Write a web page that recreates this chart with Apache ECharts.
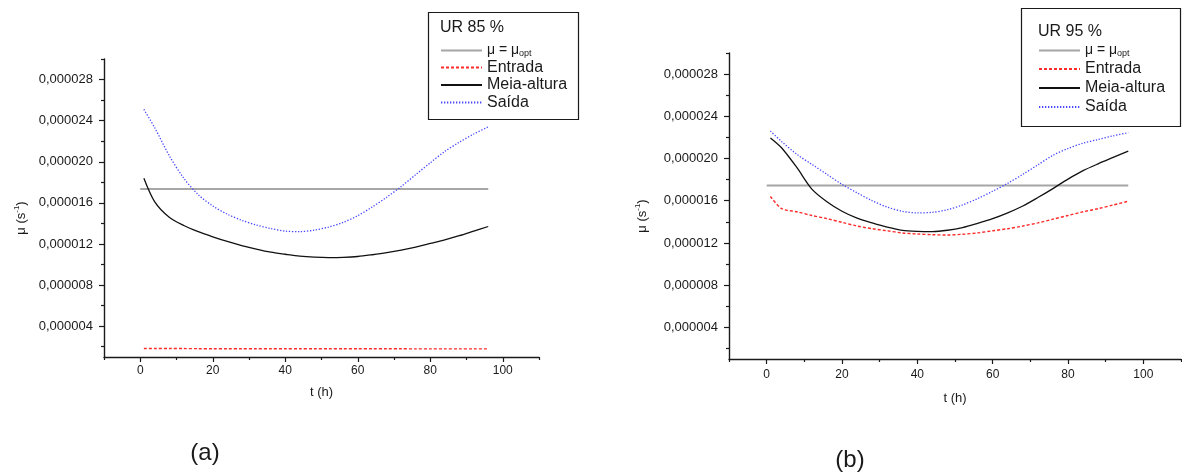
<!DOCTYPE html>
<html>
<head>
<meta charset="utf-8">
<script src="https://cdn.jsdelivr.net/npm/echarts@6/dist/echarts.min.js"></script>
<style>
  html, body { margin: 0; padding: 0; background: #fff; }
  #chart { width: 1182px; height: 472px; }
</style>
</head>
<body>
<div id="chart"></div>
<script>
// Specific growth rate μ (in units of 10^-6 s^-1) against time t (h)
// for two relative humidities: UR 85 % (a) and UR 95 % (b).
const times = [1, 4, 8, 12, 16, 20, 24, 28, 32, 36, 40, 44, 48, 52, 56, 60, 64, 68, 72, 76, 80, 84, 88, 92, 96];
const optSpan = [0, 96];

// Panel (a): UR 85 %
const muOptA = 17.35;
const entradaA = [1.82, 1.82, 1.82, 1.82, 1.81, 1.81, 1.81, 1.81, 1.81, 1.81, 1.80, 1.80, 1.80, 1.80, 1.80, 1.80, 1.80, 1.80, 1.80, 1.79, 1.79, 1.79, 1.79, 1.79, 1.79];
const meiaA    = [18.4, 16.1, 14.6, 13.8, 13.2, 12.7, 12.25, 11.85, 11.5, 11.2, 11.0, 10.82, 10.72, 10.68, 10.7, 10.78, 10.95, 11.15, 11.4, 11.7, 12.05, 12.4, 12.8, 13.25, 13.7];
const saidaA   = [25.1, 23.3, 20.6, 18.4, 16.8, 15.7, 14.9, 14.3, 13.85, 13.5, 13.25, 13.2, 13.35, 13.65, 14.1, 14.75, 15.6, 16.55, 17.6, 18.75, 19.9, 21.0, 21.9, 22.7, 23.4];

// Panel (b): UR 95 %
const muOptB = 17.45;
const entradaB = [16.4, 15.25, 14.95, 14.6, 14.3, 13.95, 13.6, 13.35, 13.15, 12.95, 12.85, 12.78, 12.75, 12.82, 12.95, 13.15, 13.35, 13.6, 13.9, 14.25, 14.6, 14.95, 15.25, 15.6, 15.95];
const meiaB    = [21.95, 21.0, 19.15, 17.1, 15.9, 15.0, 14.35, 13.9, 13.5, 13.2, 13.1, 13.08, 13.2, 13.45, 13.85, 14.3, 14.85, 15.5, 16.3, 17.15, 18.05, 18.85, 19.5, 20.1, 20.7];
const saidaB   = [22.6, 21.6, 20.4, 19.45, 18.5, 17.55, 16.75, 16.0, 15.4, 15.0, 14.85, 14.9, 15.15, 15.6, 16.2, 16.9, 17.65, 18.5, 19.4, 20.3, 20.95, 21.45, 21.8, 22.15, 22.45];

// Axis ticks
const xMajorTicks = [0, 20, 40, 60, 80, 100];
const xMinorTicks = [-10, 10, 30, 50, 70, 90, 110];
const yMajorTicks = [4, 8, 12, 16, 20, 24, 28];
const yTickLabels = ['0,000004', '0,000008', '0,000012', '0,000016', '0,000020', '0,000024', '0,000028'];
const yMinorTicks = [2, 6, 10, 14, 18, 22, 26, 30];

const names = { opt: 'μ = μopt', entrada: 'Entrada', meia: 'Meia-altura', saida: 'Saída' };

const FONT = '"Liberation Sans", Arial, Helvetica, sans-serif';
const INK = '#1a1a1a';

const pairs = (vals) => times.map((t, i) => [t, vals[i]]);

const grids = [
  { left: 104, top: 59, width: 435, height: 298 },
  { left: 729, top: 53, width: 452, height: 306 }
];

function xAxesFor(g, nameGap, labelMargin) {
  return [
    {
      type: 'value', gridIndex: g, position: 'bottom', min: -10, max: 110,
      name: 't (h)', nameLocation: 'middle', nameGap: nameGap,
      nameTextStyle: { fontFamily: FONT, fontSize: 13, color: INK },
      axisLine: { onZero: false, lineStyle: { color: INK, width: 1.4 } },
      axisTick: { show: true, inside: false, length: 5, customValues: xMajorTicks, lineStyle: { color: INK, width: 1.2 } },
      axisLabel: { customValues: xMajorTicks, margin: labelMargin, fontFamily: FONT, fontSize: 12, color: INK },
      splitLine: { show: false }
    },
    {
      type: 'value', gridIndex: g, position: 'bottom', min: -10, max: 110,
      axisLine: { show: false, onZero: false },
      axisTick: { show: true, inside: false, length: 3, customValues: xMinorTicks, lineStyle: { color: INK, width: 1.2 } },
      axisLabel: { show: false },
      splitLine: { show: false }
    }
  ];
}

function yAxesFor(g, nameGap) {
  return [
    {
      type: 'value', gridIndex: g, position: 'left', min: 1, max: 30,
      name: '{a|μ (s}{sup|-1}{a|)}', nameLocation: 'middle', nameGap: nameGap, nameRotate: 90,
      nameTextStyle: {
        fontFamily: FONT, color: INK, padding: [0, 20, 0, 0],
        rich: {
          a: { fontFamily: FONT, fontSize: 13, color: INK, lineHeight: 16 },
          sup: { fontFamily: FONT, fontSize: 8, color: INK, verticalAlign: 'top', lineHeight: 16 }
        }
      },
      axisLine: { onZero: false, lineStyle: { color: INK, width: 1.4 } },
      axisTick: { show: true, inside: false, length: 5, customValues: yMajorTicks, lineStyle: { color: INK, width: 1.2 } },
      axisLabel: {
        customValues: yMajorTicks, margin: 11, fontFamily: FONT, fontSize: 13, color: INK,
        formatter: (v) => yTickLabels[yMajorTicks.indexOf(Math.round(v))]
      },
      splitLine: { show: false }
    },
    {
      type: 'value', gridIndex: g, position: 'left', min: 1, max: 30,
      axisLine: { show: false, onZero: false },
      axisTick: { show: true, inside: false, length: 3, customValues: yMinorTicks, lineStyle: { color: INK, width: 1.2 } },
      axisLabel: { show: false },
      splitLine: { show: false }
    }
  ];
}

const styles = {
  opt:     { color: '#a6a6a6', width: 2, type: 'solid' },
  entrada: { color: '#ff2a2a', width: 1.4, type: [3, 2] },
  meia:    { color: '#111111', width: 1.3, type: 'solid' },
  saida:   { color: '#4646ff', width: 1.3, type: [1.3, 1.7] }
};

function seriesFor(xi, yi, optVal, entrada, meia, saida) {
  const base = (key, data) => ({
    type: 'line', name: names[key], xAxisIndex: xi, yAxisIndex: yi,
    data: data, symbol: 'none', smooth: key === 'opt' ? false : 0.3,
    lineStyle: styles[key], itemStyle: { color: styles[key].color },
    emphasis: { disabled: true }, silent: true, z: key === 'opt' ? 1 : 2
  });
  return [
    base('opt', optSpan.map(t => [t, optVal])),
    base('entrada', pairs(entrada)),
    base('meia', pairs(meia)),
    base('saida', pairs(saida))
  ];
}

function legendAt(left, top, gap) {
  return {
    left: left, top: top, orient: 'vertical', padding: 0,
    itemWidth: 41, itemHeight: 10, itemGap: gap, selectedMode: false,
    itemStyle: { opacity: 0 },
    data: [names.opt, names.entrada, names.meia, names.saida],
    formatter: (n) => n === names.opt ? '{m|μ = μ}{sub|opt}' : n,
    textStyle: {
      fontFamily: FONT, fontSize: 16, color: INK, lineHeight: 15,
      rich: {
        m: { fontFamily: FONT, fontSize: 14, color: INK, lineHeight: 15 },
        sub: { fontFamily: FONT, fontSize: 9, color: INK, verticalAlign: 'bottom', lineHeight: 15 }
      }
    },
    z: 5
  };
}

const chart = echarts.init(document.getElementById('chart'), null, { renderer: 'canvas' });
chart.setOption({
  animation: false,
  backgroundColor: '#ffffff',
  grid: grids,
  xAxis: [...xAxesFor(0, 29, 8), ...xAxesFor(1, 33, 10)],
  yAxis: [...yAxesFor(0, 75), ...yAxesFor(1, 79)],
  legend: [legendAt(440, 43, 1.5), legendAt(1038, 43, 3)],
  series: [
    ...seriesFor(0, 0, muOptA, entradaA, meiaA, saidaA),
    ...seriesFor(2, 2, muOptB, entradaB, meiaB, saidaB)
  ],
  graphic: [
    { type: 'rect', z: 3, shape: { x: 428.5, y: 12.5, width: 150, height: 107 }, style: { fill: '#fff', stroke: INK, lineWidth: 1.2 } },
    { type: 'text', z: 6, x: 440, y: 28, style: { text: 'UR 85 %', fontFamily: FONT, fontSize: 16, fill: INK, verticalAlign: 'middle' } },
    { type: 'rect', z: 3, shape: { x: 1021.5, y: 8.5, width: 159, height: 118 }, style: { fill: '#fff', stroke: INK, lineWidth: 1.2 } },
    { type: 'text', z: 6, x: 1038, y: 32, style: { text: 'UR 95 %', fontFamily: FONT, fontSize: 16, fill: INK, verticalAlign: 'middle' } },
    { type: 'text', z: 6, x: 205, y: 453, style: { text: '(a)', fontFamily: FONT, fontSize: 24, fill: INK, align: 'center', verticalAlign: 'middle' } },
    { type: 'text', z: 6, x: 850, y: 460, style: { text: '(b)', fontFamily: FONT, fontSize: 24, fill: INK, align: 'center', verticalAlign: 'middle' } }
  ]
});
</script>
</body>
</html>
